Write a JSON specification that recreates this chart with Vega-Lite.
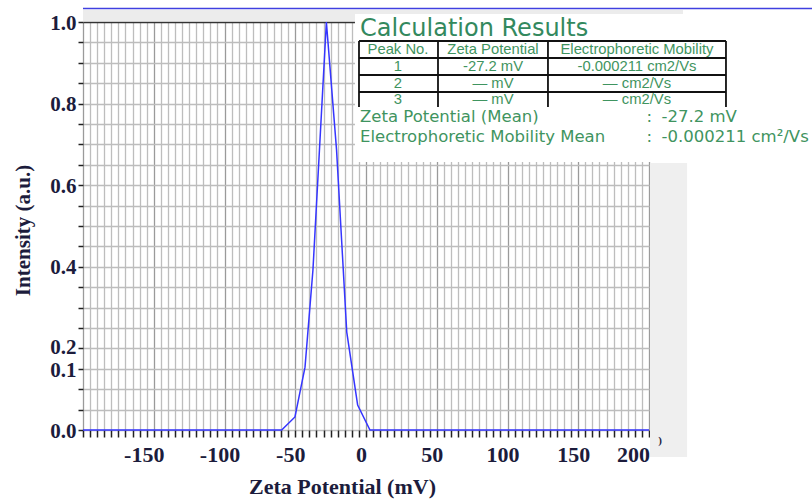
{
  "$schema": "https://vega.github.io/schema/vega-lite/v6.json",
  "width": 566,
  "height": 408,
  "autosize": "none",
  "padding": {"left": 83, "top": 22, "right": 163, "bottom": 71},
  "background": "white",
  "view": {"stroke": null, "fill": "white"},
  "config": {"axis": {"domain": false}},
  "resolve": {"axis": {"x": "independent", "y": "independent"}},
  "data": {"values": [{"note": "annotation"}]},
  "layer": [
    {
      "data": {"values": [
        {"zeta": -200, "intensity": 0},
        {"zeta": -59.6, "intensity": 0},
        {"zeta": -50.2, "intensity": 0.032},
        {"zeta": -43.1, "intensity": 0.154},
        {"zeta": -37.5, "intensity": 0.392},
        {"zeta": -28.0, "intensity": 1.0},
        {"zeta": -20.8, "intensity": 0.686},
        {"zeta": -13.6, "intensity": 0.24},
        {"zeta": -5.9, "intensity": 0.061},
        {"zeta": 2.8, "intensity": 0},
        {"zeta": 200, "intensity": 0}
      ]},
      "mark": {"type": "line", "color": "#3535ff", "strokeWidth": 1.5},
      "encoding": {
        "x": {
          "field": "zeta", "type": "quantitative",
          "scale": {"domain": [-200, 200], "nice": false, "zero": false},
          "axis": {
            "title": "Zeta Potential (mV)",
            "titleFont": "Liberation Serif", "titleFontWeight": "bold", "titleFontSize": 22, "titleColor": "#1c1c3c",
            "titleX": 259, "titleY": 63, "titleBaseline": "alphabetic", "titleAlign": "center",
            "values": [-200,-195,-190,-185,-180,-175,-170,-165,-160,-155,-150,-145,-140,-135,-130,-125,-120,-115,-110,-105,-100,-95,-90,-85,-80,-75,-70,-65,-60,-55,-50,-45,-40,-35,-30,-25,-20,-15,-10,-5,0,5,10,15,20,25,30,35,40,45,50,55,60,65,70,75,80,85,90,95,100,105,110,115,120,125,130,135,140,145,150,155,160,165,170,175,180,185,190,195,200],
            "labelExpr": "(datum.value % 50 == 0 && datum.value > -200) ? datum.value : ''",
            "labelFont": "Liberation Serif", "labelFontWeight": "bold", "labelFontSize": 22, "labelColor": "#1c1c3c",
            "labelOverlap": false, "labelBound": false, "labelFlush": false, "labelPadding": 7,
            "labelOffset": {"condition": [{"test": "datum.value == 200", "value": -16}, {"test": "datum.value == -150", "value": -10}], "value": -5},
            "ticks": true, "tickSize": 7, "tickColor": "#222", "tickWidth": 1.5,
            "grid": true, "gridWidth": 1.3,
            "gridColor": {"condition": {"test": "datum.value % 50 == 0", "value": "#9a9a9a"}, "value": "#bdbdbd"}
          }
        },
        "y": {
          "field": "intensity", "type": "quantitative",
          "scale": {"domain": [0, 1], "nice": false, "zero": false},
          "axis": {
            "title": "Intensity (a.u.)",
            "titleFont": "Liberation Serif", "titleFontWeight": "bold", "titleFontSize": 21, "titleColor": "#1c1c3c",
            "titleX": -60, "titleY": 208, "titleBaseline": "middle", "titleAlign": "center", "titleAngle": -90,
            "values": [0,0.05,0.1,0.15,0.2,0.25,0.3,0.35,0.4,0.45,0.5,0.55,0.6,0.65,0.7,0.75,0.8,0.85,0.9,0.95,1.0],
            "labelExpr": "indexof([0,15,20,40,60,80,100], round(datum.value*100)) >= 0 ? (round(datum.value*100) == 15 ? '0.1' : format(datum.value, '.1f')) : ''",
            "labelFont": "Liberation Serif", "labelFontWeight": "bold", "labelFontSize": 21, "labelColor": "#1c1c3c",
            "labelOverlap": false, "labelBound": false, "labelFlush": false, "labelPadding": 2,
            "labelOffset": {"condition": [{"test": "round(datum.value*100) == 15", "value": 2}, {"test": "round(datum.value*100) == 20", "value": -1}], "value": 1},
            "ticks": true, "tickSize": 5, "tickColor": "#222", "tickWidth": 1.5,
            "grid": true,
            "gridWidth": {"condition": {"test": "datum.value >= 0.999", "value": 1.6}, "value": 1.3},
            "gridColor": {"condition": {"test": "datum.value >= 0.999", "value": "#333333"}, "value": "#bdbdbd"}
          }
        }
      }
    },
    {
      "mark": {"type": "rect", "color": "#ececec"},
      "encoding": {"x": {"datum": -200, "axis": null}, "x2": {"datum": 224}, "y": {"datum": 1.0294, "axis": null}, "y2": {"datum": 1.0025}}
    },
    {
      "mark": {"type": "rect", "color": "#efefef"},
      "encoding": {"x": {"datum": 200.7, "axis": null}, "x2": {"datum": 226.9}, "y": {"datum": 0.6544, "axis": null}, "y2": {"datum": -0.0662}}
    },
    {
      "mark": {"type": "text", "text": ")", "font": "Liberation Serif", "fontWeight": "bold", "fontSize": 11, "color": "#1c1c3c", "align": "left", "baseline": "middle"},
      "encoding": {"x": {"datum": 206.5, "axis": null}, "y": {"datum": -0.027, "axis": null}}
    },
    {
      "mark": {"type": "rect", "color": "white"},
      "encoding": {"x": {"datum": -7.8, "axis": null}, "x2": {"datum": 315.2}, "y": {"datum": 1.0196, "axis": null}, "y2": {"datum": 0.6569}}
    },
    {
      "mark": {"type": "rule", "color": "#4040e0", "strokeWidth": 1.5},
      "encoding": {"x": {"datum": -200, "axis": null}, "x2": {"datum": 315.2}, "y": {"datum": 1.0331, "axis": null}}
    },
    {"mark": {"type": "rule", "color": "#111", "strokeWidth": 1.8}, "encoding": {"x": {"datum": -4.95, "axis": null}, "x2": {"datum": 254.4}, "y": {"datum": 0.9534, "axis": null}}},
    {"mark": {"type": "rule", "color": "#111", "strokeWidth": 1.8}, "encoding": {"x": {"datum": -4.95, "axis": null}, "x2": {"datum": 254.4}, "y": {"datum": 0.9118, "axis": null}}},
    {"mark": {"type": "rule", "color": "#111", "strokeWidth": 1.8}, "encoding": {"x": {"datum": -4.95, "axis": null}, "x2": {"datum": 254.4}, "y": {"datum": 0.8701, "axis": null}}},
    {"mark": {"type": "rule", "color": "#111", "strokeWidth": 1.8}, "encoding": {"x": {"datum": -4.95, "axis": null}, "x2": {"datum": 254.4}, "y": {"datum": 0.8284, "axis": null}}},
    {"mark": {"type": "rule", "color": "#111", "strokeWidth": 1.8}, "encoding": {"x": {"datum": -4.95, "axis": null}, "y": {"datum": 0.9534, "axis": null}, "y2": {"datum": 0.7917}}},
    {"mark": {"type": "rule", "color": "#111", "strokeWidth": 1.8}, "encoding": {"x": {"datum": 50.88, "axis": null}, "y": {"datum": 0.9534, "axis": null}, "y2": {"datum": 0.7917}}},
    {"mark": {"type": "rule", "color": "#111", "strokeWidth": 1.8}, "encoding": {"x": {"datum": 128.6, "axis": null}, "y": {"datum": 0.9534, "axis": null}, "y2": {"datum": 0.7917}}},
    {"mark": {"type": "rule", "color": "#111", "strokeWidth": 1.8}, "encoding": {"x": {"datum": 254.4, "axis": null}, "y": {"datum": 0.9534, "axis": null}, "y2": {"datum": 0.7917}}},
    {
      "mark": {"type": "text", "text": "Calculation Results", "font": "DejaVu Sans", "fontSize": 24, "color": "#33895e", "align": "left", "baseline": "alphabetic"},
      "encoding": {"x": {"datum": -4.24, "axis": null}, "y": {"datum": 0.9657, "axis": null}}
    },
    {"mark": {"type": "text", "text": "Peak No.", "font": "Liberation Sans", "fontSize": 14.8, "color": "#3f9460", "align": "center", "baseline": "middle"}, "encoding": {"x": {"datum": 22.6, "axis": null}, "y": {"datum": 0.9314, "axis": null}}},
    {"mark": {"type": "text", "text": "Zeta Potential", "font": "Liberation Sans", "fontSize": 14.8, "color": "#3f9460", "align": "center", "baseline": "middle"}, "encoding": {"x": {"datum": 89.75, "axis": null}, "y": {"datum": 0.9314, "axis": null}}},
    {"mark": {"type": "text", "text": "Electrophoretic Mobility", "font": "Liberation Sans", "fontSize": 14.8, "color": "#3f9460", "align": "center", "baseline": "middle"}, "encoding": {"x": {"datum": 191.5, "axis": null}, "y": {"datum": 0.9314, "axis": null}}},
    {"mark": {"type": "text", "text": "1", "font": "Liberation Sans", "fontSize": 14.8, "color": "#3f9460", "align": "center", "baseline": "middle"}, "encoding": {"x": {"datum": 22.6, "axis": null}, "y": {"datum": 0.8897, "axis": null}}},
    {"mark": {"type": "text", "text": "-27.2 mV", "font": "Liberation Sans", "fontSize": 14.8, "color": "#3f9460", "align": "center", "baseline": "middle"}, "encoding": {"x": {"datum": 89.75, "axis": null}, "y": {"datum": 0.8897, "axis": null}}},
    {"mark": {"type": "text", "text": "-0.000211 cm2/Vs", "font": "Liberation Sans", "fontSize": 14.8, "color": "#3f9460", "align": "center", "baseline": "middle"}, "encoding": {"x": {"datum": 191.5, "axis": null}, "y": {"datum": 0.8897, "axis": null}}},
    {"mark": {"type": "text", "text": "2", "font": "Liberation Sans", "fontSize": 14.8, "color": "#3f9460", "align": "center", "baseline": "middle"}, "encoding": {"x": {"datum": 22.6, "axis": null}, "y": {"datum": 0.848, "axis": null}}},
    {"mark": {"type": "text", "text": "— mV", "font": "Liberation Sans", "fontSize": 14.8, "color": "#3f9460", "align": "center", "baseline": "middle"}, "encoding": {"x": {"datum": 89.75, "axis": null}, "y": {"datum": 0.848, "axis": null}}},
    {"mark": {"type": "text", "text": "— cm2/Vs", "font": "Liberation Sans", "fontSize": 14.8, "color": "#3f9460", "align": "center", "baseline": "middle"}, "encoding": {"x": {"datum": 191.5, "axis": null}, "y": {"datum": 0.848, "axis": null}}},
    {"mark": {"type": "text", "text": "3", "font": "Liberation Sans", "fontSize": 14.8, "color": "#3f9460", "align": "center", "baseline": "middle"}, "encoding": {"x": {"datum": 22.6, "axis": null}, "y": {"datum": 0.8088, "axis": null}}},
    {"mark": {"type": "text", "text": "— mV", "font": "Liberation Sans", "fontSize": 14.8, "color": "#3f9460", "align": "center", "baseline": "middle"}, "encoding": {"x": {"datum": 89.75, "axis": null}, "y": {"datum": 0.8088, "axis": null}}},
    {"mark": {"type": "text", "text": "— cm2/Vs", "font": "Liberation Sans", "fontSize": 14.8, "color": "#3f9460", "align": "center", "baseline": "middle"}, "encoding": {"x": {"datum": 191.5, "axis": null}, "y": {"datum": 0.8088, "axis": null}}},
    {"mark": {"type": "text", "text": "Zeta Potential (Mean)", "font": "DejaVu Sans", "fontSize": 16.5, "color": "#3f9460", "align": "left", "baseline": "middle"}, "encoding": {"x": {"datum": -4.24, "axis": null}, "y": {"datum": 0.7672, "axis": null}}},
    {"mark": {"type": "text", "text": ":", "font": "DejaVu Sans", "fontSize": 16.5, "color": "#3f9460", "align": "left", "baseline": "middle"}, "encoding": {"x": {"datum": 198.3, "axis": null}, "y": {"datum": 0.7672, "axis": null}}},
    {"mark": {"type": "text", "text": "-27.2 mV", "font": "DejaVu Sans", "fontSize": 16.5, "color": "#3f9460", "align": "left", "baseline": "middle"}, "encoding": {"x": {"datum": 208.9, "axis": null}, "y": {"datum": 0.7672, "axis": null}}},
    {"mark": {"type": "text", "text": "Electrophoretic Mobility Mean", "font": "DejaVu Sans", "fontSize": 16.5, "color": "#3f9460", "align": "left", "baseline": "middle"}, "encoding": {"x": {"datum": -4.24, "axis": null}, "y": {"datum": 0.7181, "axis": null}}},
    {"mark": {"type": "text", "text": ":", "font": "DejaVu Sans", "fontSize": 16.5, "color": "#3f9460", "align": "left", "baseline": "middle"}, "encoding": {"x": {"datum": 198.3, "axis": null}, "y": {"datum": 0.7181, "axis": null}}},
    {"mark": {"type": "text", "text": "-0.000211 cm²/Vs", "font": "DejaVu Sans", "fontSize": 16.5, "color": "#3f9460", "align": "left", "baseline": "middle"}, "encoding": {"x": {"datum": 208.9, "axis": null}, "y": {"datum": 0.7181, "axis": null}}}
  ]
}
